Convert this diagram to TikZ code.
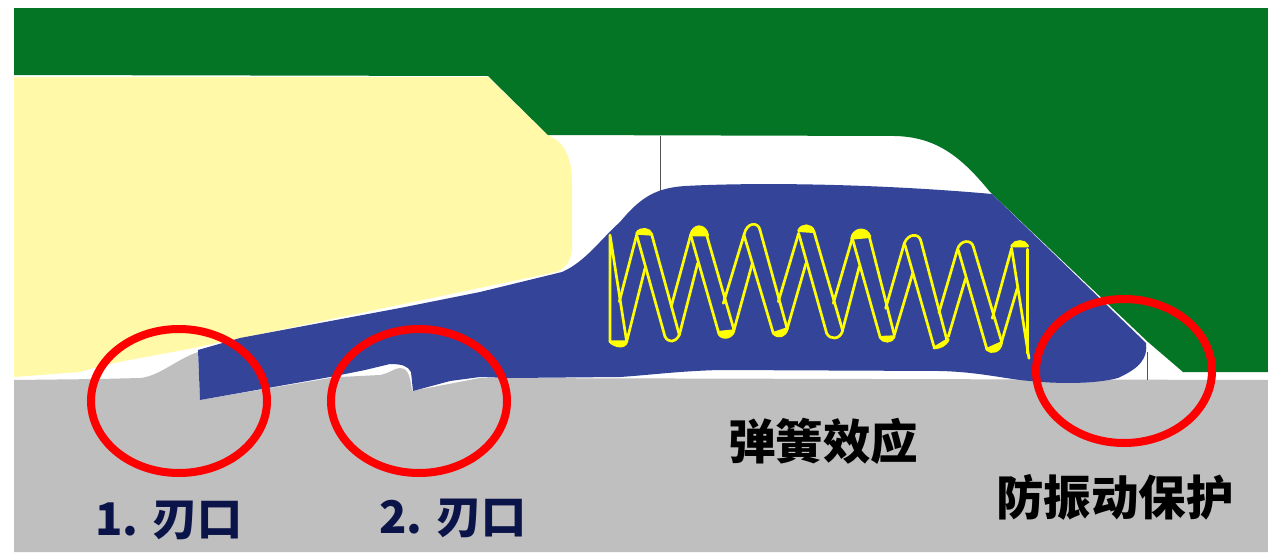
\documentclass[tikz,border=0pt]{standalone}
\usepackage{fontspec}
\newfontfamily\cjk{Noto Sans CJK SC}
\definecolor{dkgreen}{HTML}{047525}
\definecolor{ybody}{HTML}{FFF9A8}
\definecolor{gbody}{HTML}{BFBFBF}
\definecolor{bbody}{HTML}{334499}
\definecolor{navytext}{HTML}{0A1448}
\definecolor{springy}{HTML}{FFFF00}
\definecolor{thinl}{HTML}{555555}
\tikzset{
  ring/.style={draw=red,line width=8pt},
  lbl/.style={font=\cjk\bfseries\fontsize{47.5}{47.5}\selectfont,inner sep=0pt,text=black},
  lbln/.style={font=\cjk\bfseries\fontsize{45}{45}\selectfont,inner sep=0pt,text=navytext},
  coil/.style={draw=springy,line width=2.7pt,line join=round,line cap=round},
  capf/.style={fill=springy,draw=springy,line width=2.7pt,line join=round}
}
\begin{document}
\begin{tikzpicture}[x=1pt,y=-1pt]
\useasboundingbox (0,0) rectangle (1268,554);
\fill[white] (0,0) rectangle (1268,554);
% grey base
\fill[gbody] (14,380) -- (100,379) -- (140,378)
  .. controls (160,376) and (175,360) .. (198,352)
  -- (200,400) -- (330,378) -- (340,377) -- (380,375)
  .. controls (390,373) and (395,368) .. (400,368)
  .. controls (406,368) and (410,372) .. (412,391)
  -- (480,378) -- (1268,380) -- (1268,552) -- (14,552) -- cycle;
% yellow
\fill[ybody] (14,77) -- (488,77) -- (548,135) -- (558,141)
  .. controls (568,150) and (572,165) .. (572,180)
  -- (572,250) .. controls (570,262) and (566,268) .. (556,272)
  -- (198,347) .. controls (160,355) and (110,362) .. (80,372)
  -- (14,377) -- cycle;
% green
\fill[dkgreen] (14,8) -- (1268,8) -- (1268,372) -- (1183,372) -- (1148,342) -- (990,192)
  .. controls (960,155) and (935,137) .. (895,136)
  -- (548,135) -- (488,76) -- (14,75) -- cycle;
% thin lines
\draw[thinl,line width=1pt] (660,136) -- (660,192);
\draw[thinl,line width=1pt] (1147,352) -- (1147,380);
% blue body
\fill[bbody] (198,350) -- (240,338) -- (400,308) -- (480,292) -- (562,272)
  .. controls (585,262) and (600,240) .. (620,222)
  .. controls (640,198) and (655,188) .. (685,186)
  .. controls (760,182) and (880,184) .. (992,194)
  -- (1146,343)
  .. controls (1148,358) and (1140,368) .. (1118,378)
  .. controls (1095,384) and (1060,384) .. (1030,381)
  .. controls (1005,379) and (980,372) .. (940,371)
  -- (720,370)
  .. controls (680,371) and (650,375) .. (620,377)
  -- (510,378)
  -- (480,377) -- (450,381) -- (413,391) -- (411,372)
  .. controls (408,366) and (402,364) .. (390,364)
  -- (365,370) -- (330,377) -- (200,400) -- cycle;
% spring
\begin{scope}[shift={(560,120)},x=0.3333pt,y=-0.3333pt]
\draw[coil] (150,345) -- (150,665) (150,345) -- (200,665);
\foreach \xa/\ya/\xb/\yb in {
 200/665/255/445, 178/545/230/345, 230/345/315/650, 275/343/358/645,
 335/555/392/345, 358/645/413/430, 392/345/475/635, 440/345/522/630,
 490/550/552/345, 522/630/577/430, 552/345/640/640, 600/330/682/628,
 655/545/716/340, 682/625/738/430, 716/340/800/640, 762/335/848/632,
 820/550/877/355, 848/630/898/440, 877/355/960/650, 928/350/1003/645,
 977/565/1033/370, 1003/645/1058/460, 1035/375/1122/680, 1082/360/1162/665,
 1137/578/1192/390, 1165/650/1217/475, 1195/390/1280/685, 1240/380/1325/665,
 1297/595/1355/385, 1325/665/1372/505, 1355/385/1407/715, 1403/388/1403/700}
  {\draw[coil] (\xa,\ya) -- (\xb,\yb);}
\draw[capf] (150,665) .. controls (165,680) and (195,685) .. (200,665) -- cycle;
\draw[capf] (230,340) .. controls (240,322) and (270,325) .. (275,343) -- cycle;
\draw[coil] (315,650) .. controls (325,668) and (345,670) .. (358,645);
\draw[capf] (392,345) .. controls (400,312) and (435,312) .. (443,345) -- cycle;
\draw[capf] (475,637) .. controls (480,658) and (515,658) .. (522,632) -- cycle;
\draw[coil] (552,345) .. controls (560,305) and (595,305) .. (600,330);
\draw[capf] (640,640) .. controls (655,655) and (675,650) .. (682,626) -- cycle;
\draw[capf] (716,332) .. controls (725,312) and (755,312) .. (762,335) -- cycle;
\draw[coil] (800,640) .. controls (810,660) and (840,660) .. (848,632);
\draw[capf] (875,355) .. controls (880,325) and (920,320) .. (930,350) -- cycle;
\draw[capf] (960,652) .. controls (970,668) and (995,668) .. (1003,650) -- cycle;
\draw[coil] (1033,370) .. controls (1045,340) and (1075,340) .. (1082,360);
\draw[capf] (1122,684) .. controls (1140,682) and (1155,678) .. (1165,658) -- cycle;
\draw[coil] (1192,390) .. controls (1200,358) and (1235,358) .. (1240,380);
\draw[capf] (1280,688) .. controls (1295,702) and (1320,695) .. (1325,668) -- cycle;
\draw[capf] (1355,378) .. controls (1365,360) and (1395,360) .. (1403,378) -- cycle;
\end{scope}
% rings
\draw[ring] (179,401) ellipse [x radius=88pt,y radius=72pt];
\draw[ring] (419,401) ellipse [x radius=88pt,y radius=72pt];
\draw[ring] (1124,371) ellipse [x radius=88pt,y radius=72pt];
% labels
\node[lbln,anchor=center] (l1) at (169,520) {1. 刃口};
\node[lbln,anchor=center] (l2) at (453,518) {2. 刃口};
\node[lbl,anchor=center] (l3) at (823,441) {弹簧效应};
\node[lbl,anchor=center] (l4) at (1115,497) {防振动保护};
\end{tikzpicture}
\end{document}
